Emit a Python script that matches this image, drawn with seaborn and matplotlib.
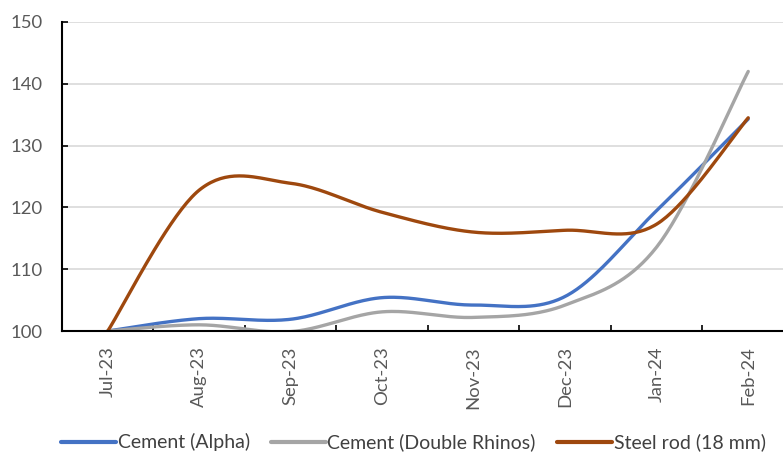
import numpy as np
import pandas as pd
import matplotlib
matplotlib.use("Agg")
import matplotlib.pyplot as plt
import seaborn as sns
from matplotlib.lines import Line2D

months = ["Jul-23", "Aug-23", "Sep-23", "Oct-23", "Nov-23", "Dec-23", "Jan-24", "Feb-24"]
cement_alpha = [100, 102.0, 101.9, 105.4, 104.2, 105.6, 119.5, 134.3]
cement_rhinos = [100, 101.0, 99.9, 103.1, 102.2, 104.2, 113.6, 142.0]
steel_rod = [100, 122.8, 123.9, 119.2, 116.0, 116.3, 117.3, 134.5]
series_names = ["Cement (Alpha)", "Cement (Double Rhinos)", "Steel rod (18 mm)"]
colors = ["#4472C4", "#A5A5A5", "#9E480E"]
y_ticks = [100, 110, 120, 130, 140, 150]

sns.set_theme(style="white")
plt.rcParams["font.family"] = ["Lato", "DejaVu Sans"]


def smooth(xs, ys, n=40):
    # Excel-style smoothed line: cubic Bezier through the points (Catmull-Rom control points)
    P = np.column_stack([xs, ys]).astype(float)
    m = len(P)
    out = []
    for i in range(m - 1):
        p0 = P[i - 1] if i > 0 else P[i]
        p1 = P[i]
        p2 = P[i + 1]
        p3 = P[i + 2] if i + 2 < m else P[i + 1]
        c1 = p1 + (p2 - p0) / 6.0
        c2 = p2 - (p3 - p1) / 6.0
        t = np.linspace(0, 1, n)[:, None]
        seg = ((1 - t) ** 3) * p1 + 3 * ((1 - t) ** 2) * t * c1 + 3 * (1 - t) * t ** 2 * c2 + t ** 3 * p2
        if i > 0:
            seg = seg[1:]
        out.append(seg)
    return np.vstack(out)


frames = []
for name, vals in zip(series_names, [cement_alpha, cement_rhinos, steel_rod]):
    curve = smooth(np.arange(len(months)), vals)
    frames.append(pd.DataFrame({"x": curve[:, 0], "y": curve[:, 1], "series": name}))
df = pd.concat(frames, ignore_index=True)

fig = plt.figure(figsize=(7.83, 4.53), dpi=100)
ax = fig.add_axes([62 / 783, 1 - 331 / 453, (783 - 62) / 783, (331 - 22) / 453])

sns.lineplot(data=df, x="x", y="y", hue="series", palette=colors, sort=False,
             estimator=None, linewidth=2.4, ax=ax, legend=False,
             hue_order=series_names)
for line in ax.lines:
    line.set_solid_capstyle("round")

ax.set_xlim(-0.5, 7.38)
ax.set_ylim(100, 150)
ax.set_yticks(y_ticks)
ax.set_yticklabels([str(v) for v in y_ticks], fontsize=13.3, color="#595959")
ax.set_xticks(range(len(months)))
ax.set_xticklabels(months, rotation=90, fontsize=13.3, color="#595959")
ax.set_xticks(np.arange(0.5, len(months) - 1, 1.0), minor=True)
ax.tick_params(axis="x", which="major", length=0, pad=11)
ax.tick_params(axis="x", which="minor", length=4, width=1.2, color="black", direction="in", bottom=True)
ax.tick_params(axis="y", length=4.5, width=1.2, color="black", direction="in", left=True, pad=14)
ax.set_xlabel("")
ax.set_ylabel("")

ax.grid(axis="y", color="#D9D9D9", linewidth=1.2)
ax.set_axisbelow(True)
for s in ["top", "right"]:
    ax.spines[s].set_visible(False)
for s in ["left", "bottom"]:
    ax.spines[s].set_color("black")
    ax.spines[s].set_linewidth(1.5)

handles = [Line2D([0], [0], color=c, linewidth=3) for c in colors]
fig.legend(handles, series_names, loc="lower center", bbox_to_anchor=(0.528, -0.035), ncol=3,
           frameon=False, fontsize=14, handlelength=2.8, columnspacing=1.1,
           handletextpad=0.1, labelcolor="#404040")

fig.savefig("out.png", dpi=100)
